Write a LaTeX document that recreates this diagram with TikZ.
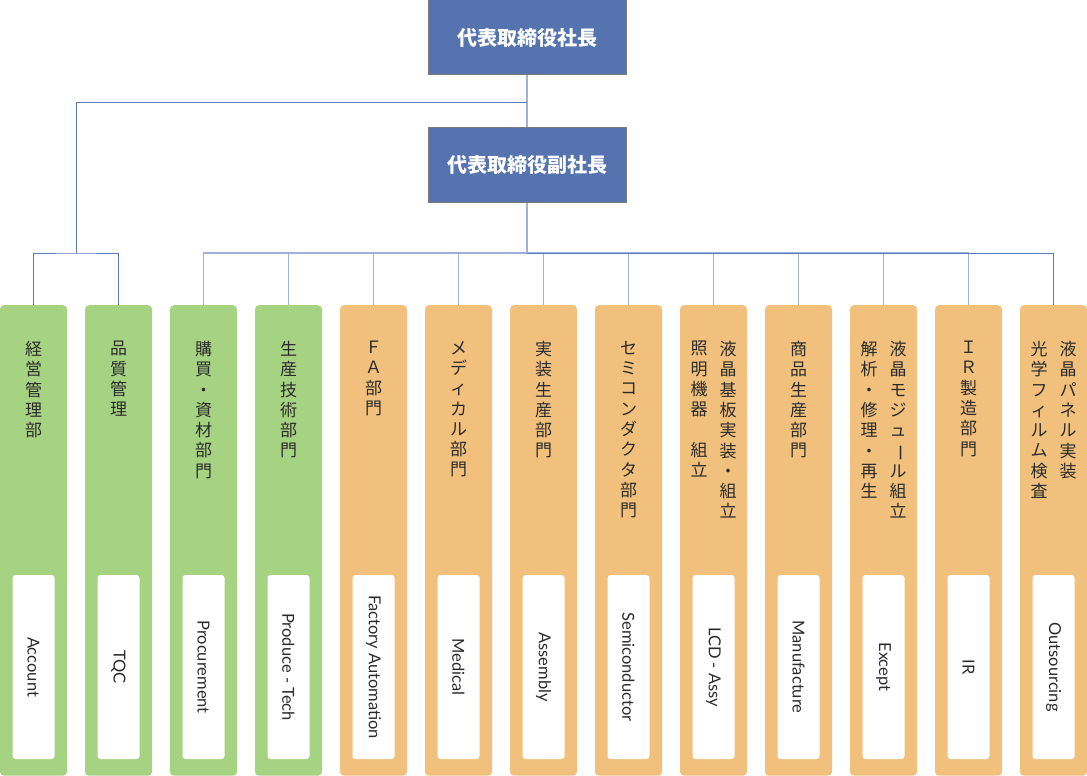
\documentclass[tikz,border=0pt]{standalone}
\usepackage{fontspec}
\newfontfamily\jp{Noto Sans CJK JP}
\newfontfamily\en{Lato}
\definecolor{boxblue}{HTML}{5473AF}
\definecolor{boxedge}{HTML}{7A7A7A}
\definecolor{grn}{HTML}{A6D382}
\definecolor{org}{HTML}{F0C07C}
\definecolor{txt}{HTML}{2B2B2B}
\definecolor{lnlight}{HTML}{9FB2DA}
\definecolor{lndark}{HTML}{5B7AB8}
\newcommand{\vbar}{\rotatebox[origin=c]{-90}{ー}}
\begin{document}
\begin{tikzpicture}[x=1pt,y=-1pt,
  topbox/.style={draw=boxedge, line width=1pt, fill=boxblue, minimum width=198pt, minimum height=75pt, inner sep=0, text=white, font=\jp\bfseries\fontsize{20}{24}\selectfont},
  colbox/.style={rounded corners=4pt, minimum width=67pt, minimum height=470.5pt, anchor=north, inner sep=0},
  gcol/.style={colbox, fill=grn},
  ocol/.style={colbox, fill=org},
  wbox/.style={fill=white, rounded corners=3pt, minimum width=184pt, minimum height=42pt, rotate=-90, inner sep=0, text=txt, font=\en\fontsize{16.5}{20}\selectfont},
  hd/.style={anchor=north, align=center, inner sep=0, text=txt, font=\jp\fontsize{17}{20.3}\selectfont},
  ld/.style={draw=lndark, line width=1pt},
  ll/.style={draw=lnlight, line width=1.1pt}]
\useasboundingbox (0,0) rectangle (1087,776);

% top boxes
\node[topbox] (ceo) at (527,37.5) {代表取締役社長};
\node[topbox] (vp) at (527,164.5) {代表取締役副社長};

% columns
\node[gcol] (c1) at (33.5,305) {};
\node[gcol] (c2) at (118.5,305) {};
\node[gcol] (c3) at (203.5,305) {};
\node[gcol] (c4) at (288.5,305) {};
\node[ocol] (c5) at (373.5,305) {};
\node[ocol] (c6) at (458.5,305) {};
\node[ocol] (c7) at (543.5,305) {};
\node[ocol] (c8) at (628.5,305) {};
\node[ocol] (c9) at (713.5,305) {};
\node[ocol] (c10) at (798.5,305) {};
\node[ocol] (c11) at (883.5,305) {};
\node[ocol] (c12) at (968.5,305) {};
\node[ocol] (c13) at (1053.5,305) {};

% connectors
\coordinate (j1) at (527,102);
\coordinate (j2) at (76,253);
\coordinate (j3) at (527,253);
\draw[ll] (ceo.south) -- (vp.north);
\draw[ld] (j1) -| (j2);
\draw[ld] (c1.north) |- (j2) -| (c2.north);
\draw[ll] (vp.south) -- (j3);
\foreach \i in {3,...,12} { \draw[ll] (c\i.north) |- (j3); }
\draw[ld] (c13.north) |- (j3);

% headers
\node[hd] (h1) at (33.5,341) {経\\営\\管\\理\\部};
\node[hd] (h2) at (118.5,341) {品\\質\\管\\理};
\node[hd] (h3) at (203.5,341) {購\\買\\・\\資\\材\\部\\門};
\node[hd] (h4) at (288.5,341) {生\\産\\技\\術\\部\\門};
\node[hd] (h5) at (373.5,341) {Ｆ\\Ａ\\部\\門};
\node[hd] (h6) at (458.5,341) {メ\\デ\\ィ\\カ\\ル\\部\\門};
\node[hd] (h7) at (543.5,341) {実\\装\\生\\産\\部\\門};
\node[hd] (h8) at (628.5,341) {セ\\ミ\\コ\\ン\\ダ\\ク\\タ\\部\\門};
\node[hd] (h9a) at (728,341) {液\\晶\\基\\板\\実\\装\\・\\組\\立};
\node[hd] (h9b) at (699,341) {照\\明\\機\\器\\　\\組\\立};
\node[hd] (h10) at (798.5,341) {商\\品\\生\\産\\部\\門};
\node[hd] (h11a) at (898,341) {液\\晶\\モ\\ジ\\ュ\\\vbar\\ル\\組\\立};
\node[hd] (h11b) at (869,341) {解\\析\\・\\修\\理\\・\\再\\生};
\node[hd] (h12) at (968.5,341) {Ｉ\\Ｒ\\製\\造\\部\\門};
\node[hd] (h13a) at (1068,341) {液\\晶\\パ\\ネ\\ル\\実\\装};
\node[hd] (h13b) at (1039,341) {光\\学\\フ\\ィ\\ル\\ム\\検\\査};

% english labels
\node[wbox] (w1) at (33.5,667) {Account};
\node[wbox] (w2) at (118.5,667) {TQC};
\node[wbox] (w3) at (203.5,667) {Procurement};
\node[wbox] (w4) at (288.5,667) {Produce - Tech};
\node[wbox] (w5) at (373.5,667) {Factory Automation};
\node[wbox] (w6) at (458.5,667) {Medical};
\node[wbox] (w7) at (543.5,667) {Assembly};
\node[wbox] (w8) at (628.5,667) {Semiconductor};
\node[wbox] (w9) at (713.5,667) {LCD - Assy};
\node[wbox] (w10) at (798.5,667) {Manufacture};
\node[wbox] (w11) at (883.5,667) {Except};
\node[wbox] (w12) at (968.5,667) {IR};
\node[wbox] (w13) at (1053.5,667) {Outsourcing};
\end{tikzpicture}
\end{document}
